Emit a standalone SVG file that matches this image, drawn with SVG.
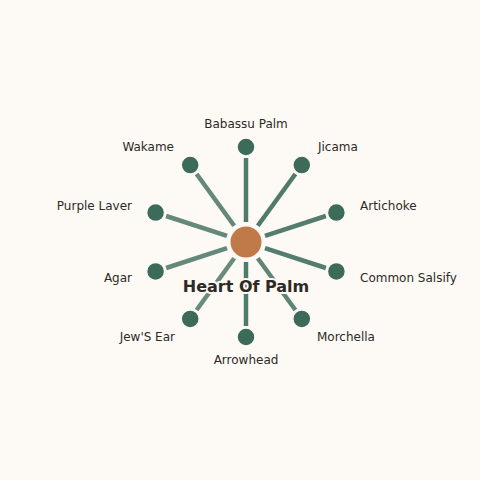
<svg xmlns="http://www.w3.org/2000/svg" width="480" height="480" viewBox="0 0 480 480">
<style>
.bg{fill:#fdf9f5}
.spoke{stroke:#3d6b5a;stroke-width:4.5;stroke-linecap:butt;fill:none}
.leaf{fill:#3d6b5a;stroke:#fdf9f5;stroke-width:1.5}
.hub{fill:#c07a4a;stroke:#fdf9f5;stroke-width:2}
.lbl{font-family:"DejaVu Sans",sans-serif;font-size:12px;fill:#2d2a26}
.title{font-family:"DejaVu Sans",sans-serif;font-size:16px;font-weight:bold;fill:#2d2a26;stroke:#fdf9f5;stroke-width:4;paint-order:stroke;stroke-linejoin:round}
</style>
<rect class="bg" x="0" y="0" width="480" height="480"/>
<g id="connectors">
<line class="spoke" x1="246" y1="222" x2="246" y2="158" stroke-opacity="0.9"/>
<line class="spoke" x1="257.8" y1="225.8" x2="295.4" y2="174.0" stroke-opacity="0.9"/>
<line class="spoke" x1="265.0" y1="235.8" x2="325.9" y2="216.0" stroke-opacity="0.88"/>
<line class="spoke" x1="265.0" y1="248.2" x2="325.9" y2="268.0" stroke-opacity="0.88"/>
<line class="spoke" x1="257.8" y1="258.2" x2="295.4" y2="310.0" stroke-opacity="0.82"/>
<line class="spoke" x1="246" y1="262" x2="246" y2="326" stroke-opacity="0.9"/>
<line class="spoke" x1="234.2" y1="258.2" x2="196.6" y2="310.0" stroke-opacity="0.78"/>
<line class="spoke" x1="227.0" y1="248.2" x2="166.1" y2="268.0" stroke-opacity="0.8"/>
<line class="spoke" x1="227.0" y1="235.8" x2="166.1" y2="216.0" stroke-opacity="0.8"/>
<line class="spoke" x1="234.2" y1="225.8" x2="196.6" y2="174.0" stroke-opacity="0.8"/>
</g>
<g id="node-babassu-palm"><circle class="leaf" cx="246" cy="147" r="9"/><text class="lbl" x="246" y="128" text-anchor="middle">Babassu Palm</text></g>
<g id="node-jicama"><circle class="leaf" cx="301.8" cy="165.1" r="9"/><text class="lbl" x="318" y="151">Jicama</text></g>
<g id="node-artichoke"><circle class="leaf" cx="336.4" cy="212.6" r="9"/><text class="lbl" x="360" y="210">Artichoke</text></g>
<g id="node-common-salsify"><circle class="leaf" cx="336.4" cy="271.4" r="9"/><text class="lbl" x="360" y="282">Common Salsify</text></g>
<g id="node-morchella"><circle class="leaf" cx="301.8" cy="318.9" r="9"/><text class="lbl" x="317" y="341">Morchella</text></g>
<g id="node-arrowhead"><circle class="leaf" cx="246" cy="337" r="9"/><text class="lbl" x="246" y="364" text-anchor="middle">Arrowhead</text></g>
<g id="node-jews-ear"><circle class="leaf" cx="190.2" cy="318.9" r="9"/><text class="lbl" x="175" y="341" text-anchor="end">Jew'S Ear</text></g>
<g id="node-agar"><circle class="leaf" cx="155.6" cy="271.4" r="9"/><text class="lbl" x="132" y="282" text-anchor="end">Agar</text></g>
<g id="node-purple-laver"><circle class="leaf" cx="155.6" cy="212.6" r="9"/><text class="lbl" x="132" y="210" text-anchor="end">Purple Laver</text></g>
<g id="node-wakame"><circle class="leaf" cx="190.2" cy="165.1" r="9"/><text class="lbl" x="174" y="151" text-anchor="end">Wakame</text></g>
<g id="node-heart-of-palm"><circle class="hub" cx="246" cy="242" r="16.5"/><text class="title" x="246" y="292" text-anchor="middle">Heart Of Palm</text></g>
</svg>
